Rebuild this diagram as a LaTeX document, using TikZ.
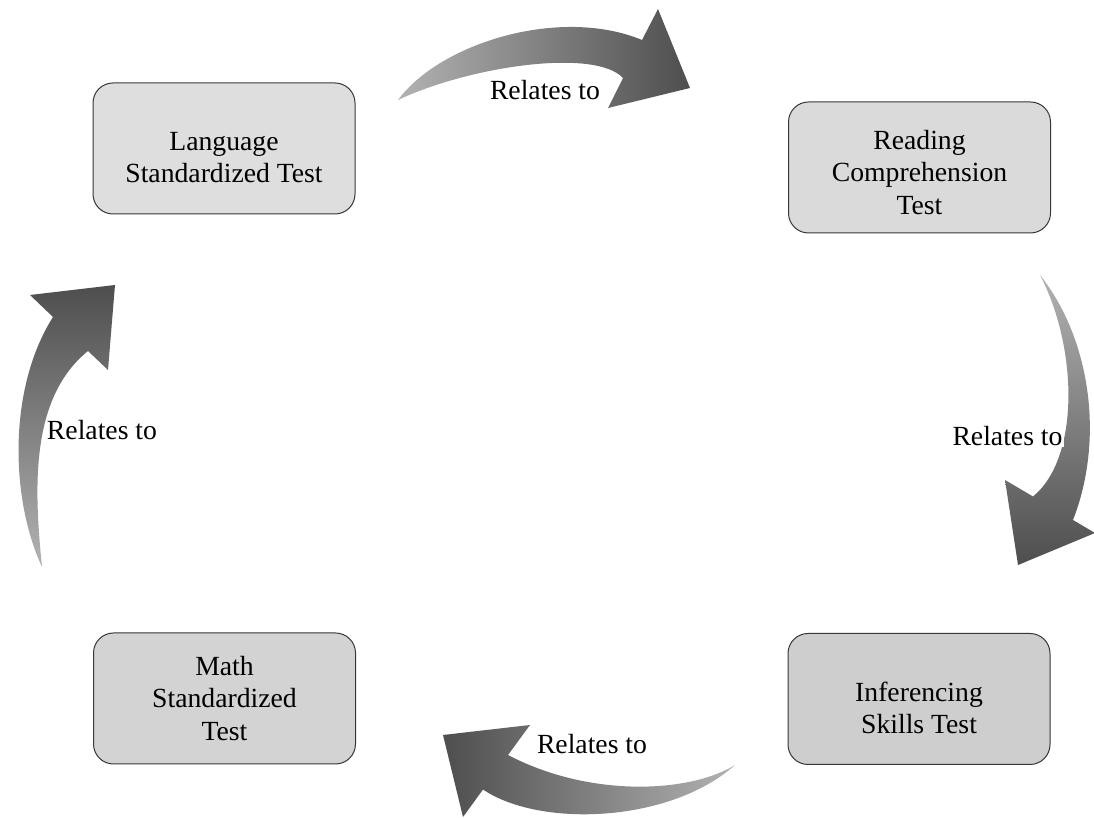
\documentclass[tikz,border=0pt]{standalone}
\usepackage{fontspec}
\setmainfont{Liberation Serif}
\definecolor{arrlight}{RGB}{178,178,178}
\definecolor{arrdark}{RGB}{78,78,78}
\definecolor{boxedge}{RGB}{55,55,55}
\definecolor{fillA}{RGB}{222,222,222}
\definecolor{fillB}{RGB}{218,218,218}
\definecolor{fillC}{RGB}{211,211,211}
\definecolor{fillD}{RGB}{206,206,206}
\begin{document}
\begin{tikzpicture}[x=1pt,y=1pt,
  testbox/.style={draw=boxedge, line width=1pt, rounded corners=20pt,
    minimum width=262pt, minimum height=131pt, inner sep=0pt},
  boxtext/.style={align=center, font=\fontsize{27.7}{32.5}\selectfont, inner sep=0pt},
  rellabel/.style={font=\fontsize{27.7}{32.5}\selectfont, inner sep=1pt, fill=white},
  blockarrow/.style={draw=none}
]
\useasboundingbox[fill=white] (0,0) rectangle (1094,818);

% boxes
\node[testbox, fill=fillA] (lang) at (224,669.5) {};
\node[testbox, fill=fillB] (read) at (919.5,650.5) {};
\node[testbox, fill=fillC] (math) at (224.5,119.5) {};
\node[testbox, fill=fillD] (inf) at (919,119) {};

\node[boxtext] (langt) at ([yshift=-9pt]lang.center) {Language\\Standardized Test};
\node[boxtext] (readt) at ([yshift=-5pt]read.center) {Reading\\Comprehension\\Test};
\node[boxtext] (matht) at (math.center) {Math\\Standardized\\Test};
\node[boxtext] (inft) at ([yshift=-9pt]inf.center) {Inferencing\\Skills Test};

% top arrow (left to right)
\path[blockarrow, left color=arrlight, right color=arrdark]
  (398,718) .. controls (440,775) and (560,812) .. (642,778)
  -- (658,809) -- (690,730) -- (608,710) -- (623,740)
  .. controls (595,770) and (470,752) .. (398,718) -- cycle;

% right arrow (top to bottom)
\path[blockarrow, top color=arrlight, bottom color=arrdark]
  (1040,543) .. controls (1090,480) and (1105,380) .. (1073,298)
  -- (1095,285) -- (1018,253) -- (1005,338) -- (1033,321.5)
  .. controls (1080,360) and (1078,470) .. (1040,543) -- cycle;

% bottom arrow (right to left)
\path[blockarrow, left color=arrdark, right color=arrlight]
  (735,53) .. controls (690,25) and (590,20) .. (508,63)
  -- (530,93) -- (443,83) -- (463,1) -- (483,28.5)
  .. controls (540,-10) and (670,-5) .. (735,53) -- cycle;

% left arrow (bottom to top)
\path[blockarrow, top color=arrdark, bottom color=arrlight]
  (42,251) .. controls (10,320) and (8,430) .. (53,501)
  -- (30,523) -- (115,533) -- (108,448) -- (88,467)
  .. controls (30,420) and (34,330) .. (42,251) -- cycle;

% labels
\node[rellabel] (l1) at (545,728) {Relates to};
\node[rellabel] (l2) at (1007.5,382) {Relates to};
\node[rellabel] (l3) at (592,74) {Relates to};
\node[rellabel] (l4) at (102,388) {Relates to};
\end{tikzpicture}
\end{document}
